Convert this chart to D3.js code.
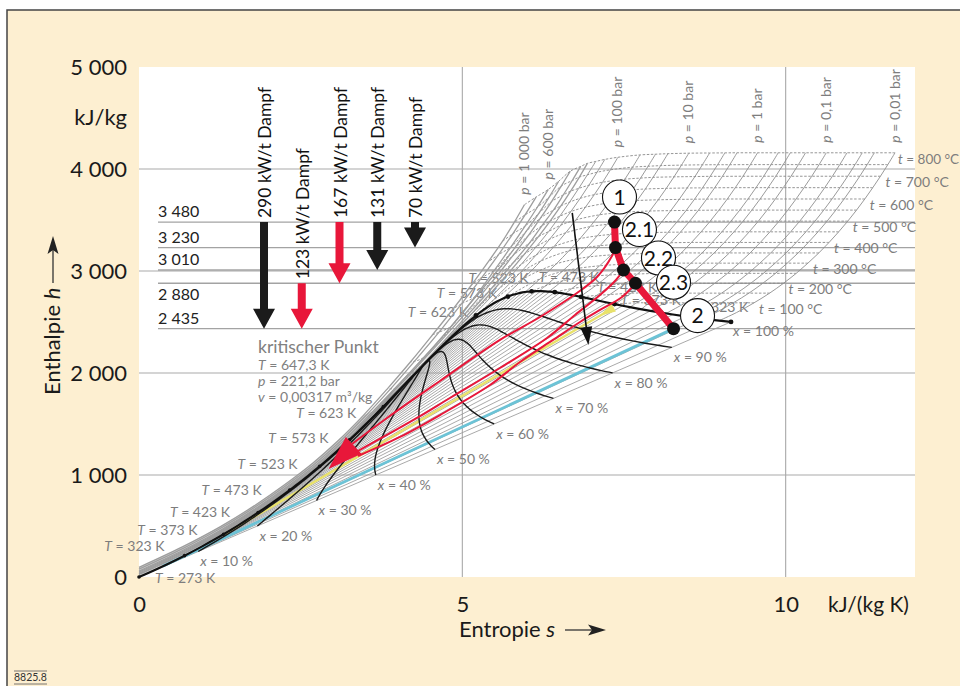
<!DOCTYPE html>
<html><head><meta charset="utf-8">
<script src="https://cdn.jsdelivr.net/npm/d3@7"></script>
<style>body{margin:0;background:#fff}svg{display:block;font-family:Lato,"Open Sans",sans-serif}</style>
</head><body><svg id="c" width="960" height="686"></svg>
<script>
// ---------------- DATA ----------------
// Saturation table of water (t in °C, s in kJ/(kg K), h in kJ/kg)
const satTempC=[0.01,10,20,30,40,50,60,70,80,90,100,110,120,130,140,150,160,170,180,190,200,210,220,230,240,250,260,270,280,290,300,310,320,330,340,350,360,370,373.95];
const satLiqS=[0,0.151,0.2965,0.4368,0.5724,0.7038,0.8313,0.9551,1.0756,1.1929,1.3072,1.4188,1.5279,1.6346,1.7392,1.8418,1.9426,2.0417,2.1392,2.2355,2.3305,2.4245,2.5177,2.6101,2.7020,2.7935,2.8849,2.9765,3.0685,3.1612,3.2552,3.3510,3.4494,3.5518,3.6601,3.7784,3.9167,4.1112,4.407];
const satLiqH=[0,42.0,83.9,125.7,167.5,209.3,251.2,293.0,335.0,377.0,419.2,461.4,503.8,546.4,589.2,632.2,675.5,719.1,763.1,807.4,852.3,897.6,943.6,990.2,1037.6,1085.8,1135.0,1185.3,1236.9,1290.0,1345.0,1402.2,1462.2,1525.9,1594.5,1670.9,1761.7,1889.7,2084.3];
const satVapS=[9.155,8.899,8.666,8.452,8.256,8.075,7.908,7.754,7.611,7.478,7.354,7.238,7.129,7.026,6.929,6.837,6.749,6.665,6.584,6.506,6.430,6.356,6.284,6.213,6.142,6.072,6.001,5.930,5.857,5.782,5.705,5.623,5.535,5.439,5.333,5.211,5.053,4.800,4.407];
const satVapH=[2501.0,2519.2,2537.4,2555.6,2573.5,2591.3,2608.8,2626.1,2643.0,2659.6,2675.6,2691.1,2705.9,2720.1,2733.5,2745.9,2757.4,2767.7,2776.9,2784.8,2792.0,2797.5,2801.0,2802.9,2803.0,2800.9,2796.6,2789.7,2779.9,2766.7,2749.6,2727.9,2700.6,2666.0,2621.8,2563.6,2481.5,2332.7,2084.3];
const kelvinMarks=[273,323,373,423,473,523,573,623];
const qualities=[0.1,0.2,0.3,0.4,0.5,0.6,0.7,0.8,0.9];

// Low pressure superheated steam (t in °C, h common, s per pressure)
const lpTemps=[50,100,150,200,250,300,350,400,450,500,550,600,650,700,750,800];
const lpEnth=[2592,2688,2783,2880,2977,3077,3177,3280,3384,3489,3597,3706,3817,3929,4043,4159];
const s_0p01=[9.238,9.511,9.752,9.967,10.163,10.344,10.513,10.671,10.820,10.961,11.096,11.224,11.347,11.466,11.580,11.691];
const s_0p02=[8.918,9.191,9.432,9.647,9.843,10.024,10.193,10.351,10.500,10.641,10.776,10.904,11.027,11.146,11.260,11.371];
const s_0p03=[8.731,9.004,9.245,9.460,9.656,9.837,10.006,10.164,10.313,10.454,10.589,10.717,10.840,10.959,11.073,11.184];
const s_0p05=[8.495,8.768,9.009,9.224,9.420,9.601,9.770,9.928,10.077,10.218,10.353,10.481,10.604,10.723,10.837,10.948];
const s_0p1=[8.175,8.448,8.689,8.904,9.100,9.281,9.450,9.608,9.757,9.898,10.033,10.161,10.284,10.403,10.517,10.628];
const s_0p2=[null,8.128,8.369,8.584,8.780,8.961,9.130,9.288,9.437,9.578,9.713,9.841,9.964,10.083,10.197,10.308];
const s_0p3=[null,7.892,8.133,8.348,8.544,8.725,8.894,9.052,9.201,9.342,9.477,9.605,9.728,9.847,9.961,10.072];
const s_0p5=[null,7.695,7.946,8.161,8.357,8.538,8.707,8.865,9.014,9.155,9.290,9.418,9.541,9.660,9.774,9.885];
const s_1=[null,null,7.613,7.834,8.033,8.216,8.387,8.544,8.693,8.834,8.969,9.098,9.221,9.340,9.454,9.565];
// saturated vapour start of each low-pressure isobar [t, s, h]
const lpSatStart=[[7.0,8.975,2514],[17.5,8.723,2533],[24.1,8.577,2545],[32.9,8.393,2561],[45.8,8.150,2584],[60.1,7.908,2609],[69.1,7.768,2625],[81.3,7.593,2645],[99.6,7.359,2675]];

// Higher pressure isobars [t °C, s, h]
const isobar_2bar=[[120.2,7.127,2706],[150,7.280,2769],[200,7.508,2871],[250,7.710,2971],[300,7.894,3072],[350,8.064,3174],[400,8.223,3277],[450,8.373,3381],[500,8.515,3488],[550,8.650,3595],[600,8.779,3705],[650,8.902,3816],[700,9.022,3928],[750,9.136,4042],[800,9.248,4159]];
const isobar_3bar=[[133.5,6.992,2725],[150,7.078,2761],[200,7.312,2866],[250,7.518,2968],[300,7.703,3070],[350,7.875,3172],[400,8.034,3275],[450,8.184,3380],[500,8.327,3487],[550,8.462,3594],[600,8.591,3704],[650,8.714,3815],[700,8.833,3928],[750,8.948,4042],[800,9.059,4158]];
const isobar_5bar=[[151.8,6.821,2748],[200,7.061,2856],[250,7.272,2961],[300,7.461,3065],[350,7.634,3168],[400,7.795,3272],[450,7.946,3377],[500,8.088,3484],[550,8.224,3592],[600,8.353,3702],[650,8.477,3814],[700,8.597,3926],[750,8.712,4041],[800,8.824,4157]];
const isobar_10bar=[[179.9,6.586,2777],[200,6.694,2828],[250,6.925,2943],[300,7.123,3051],[350,7.301,3158],[400,7.465,3264],[450,7.618,3371],[500,7.762,3479],[550,7.899,3588],[600,8.029,3698],[650,8.154,3810],[700,8.273,3923],[750,8.389,4038],[800,8.502,4155]];
const isobar_20bar=[[212.4,6.340,2798],[250,6.547,2903],[300,6.768,3024],[350,6.958,3138],[400,7.129,3248],[450,7.287,3358],[500,7.434,3468],[550,7.573,3579],[600,7.704,3691],[650,7.830,3804],[700,7.949,3918],[750,8.066,4033],[800,8.179,4150]];
const isobar_30bar=[[233.9,6.186,2803],[250,6.289,2856],[300,6.541,2994],[350,6.745,3116],[400,6.923,3231],[450,7.086,3344],[500,7.236,3457],[550,7.376,3569],[600,7.509,3682],[650,7.634,3796],[700,7.757,3911],[750,7.873,4027],[800,7.987,4145]];
const isobar_50bar=[[263.9,5.973,2794],[300,6.209,2926],[350,6.451,3069],[400,6.647,3197],[450,6.819,3317],[500,6.976,3435],[550,7.121,3551],[600,7.260,3667],[650,7.390,3783],[700,7.514,3900],[750,7.633,4018],[800,7.748,4138]];
const isobar_100bar=[[311.0,5.614,2725],[325,5.757,2810],[350,5.944,2924],[400,6.212,3097],[450,6.419,3241],[500,6.597,3374],[550,6.756,3501],[600,6.903,3625],[650,7.040,3748],[700,7.169,3870],[750,7.290,3992],[800,7.406,4115]];
const isobar_150bar=[[342.2,5.311,2611],[350,5.442,2693],[400,5.884,2976],[450,6.143,3158],[500,6.349,3311],[550,6.522,3449],[600,6.679,3583],[650,6.823,3713],[700,6.957,3841],[750,7.083,3968],[800,7.204,4094]];
const isobar_200bar=[[365.8,4.927,2411],[400,5.554,2818],[450,5.904,3061],[500,6.143,3238],[550,6.335,3387],[600,6.507,3537],[650,6.660,3676],[700,6.800,3810],[750,6.934,3943],[800,7.062,4074]];
const isobar_250bar=[[0,0,25],[50,0.70,232],[100,1.30,438],[150,1.83,645],[200,2.32,861],[250,2.78,1085],[300,3.21,1330],[350,3.64,1624],[375,4.03,1849],[400,5.14,2578],[450,5.675,2951],[500,5.961,3166],[550,6.180,3339],[600,6.360,3491],[650,6.527,3640],[700,6.675,3783],[750,6.810,3921],[800,6.934,4055]];
const isobar_300bar=[[0,0,30],[50,0.70,237],[100,1.29,443],[150,1.83,650],[200,2.32,865],[250,2.78,1086],[300,3.21,1323],[350,3.63,1608],[375,3.93,1791],[400,4.48,2152],[425,5.00,2512],[450,5.44,2821],[500,5.79,3083],[550,6.04,3276],[600,6.23,3443],[650,6.41,3598],[700,6.56,3745],[750,6.70,3887],[800,6.83,4025]];
const isobar_400bar=[[0,0,39],[50,0.69,245],[100,1.29,450],[150,1.82,658],[200,2.31,869],[250,2.77,1086],[300,3.20,1316],[350,3.61,1567],[375,3.83,1743],[400,4.11,1931],[425,4.50,2198],[450,4.95,2513],[500,5.47,2903],[550,5.78,3149],[600,6.02,3346],[650,6.21,3520],[700,6.38,3681],[750,6.53,3833],[800,6.67,3979]];
const isobar_500bar=[[0,0,49],[50,0.69,253],[100,1.285,458],[150,1.815,666],[200,2.30,877],[250,2.76,1095],[300,3.185,1327],[350,3.59,1582],[400,4.00,1875],[450,4.60,2285],[500,5.17,2720],[550,5.52,2985],[600,5.78,3200],[650,5.99,3390],[700,6.18,3563],[750,6.345,3727],[800,6.49,3880]];
const isobar_600bar=[[0,0,58],[50,0.68,262],[100,1.28,466],[150,1.81,674],[200,2.29,885],[250,2.75,1105],[300,3.17,1340],[350,3.58,1600],[400,3.96,1850],[450,4.40,2150],[500,4.83,2460],[550,5.20,2750],[600,5.50,3010],[650,5.75,3235],[700,5.97,3440],[750,6.16,3625],[800,6.33,3800]];
const isobar_800bar=[[0,0,77],[50,0.675,278],[100,1.27,480],[150,1.795,686],[200,2.27,895],[250,2.72,1110],[300,3.13,1340],[350,3.52,1590],[400,3.89,1845],[450,4.26,2115],[500,4.64,2400],[550,4.99,2680],[600,5.30,2935],[650,5.56,3160],[700,5.78,3365],[750,5.97,3550],[800,6.14,3725]];
const isobar_1000bar=[[0,0,95],[50,0.67,295],[100,1.26,494],[150,1.78,697],[200,2.25,904],[250,2.69,1118],[300,3.09,1343],[350,3.47,1585],[400,3.84,1845],[450,4.20,2110],[500,4.54,2375],[550,4.86,2630],[600,5.15,2870],[650,5.40,3090],[700,5.62,3290],[750,5.80,3475],[800,5.96,3650]];

const isoTempsC=[100,150,200,250,300,350,400,450,500,550,600,650,700,750,800];
const isoTempLabels=[100,200,300,400,500,600,700,800];
const pressureLabels=["1 000","600","100","10","1","0,1","0,01"];

// process (turbine expansion)
const procNames=["1","2.1","2.2","2.3","2"];
const procS=[7.353,7.368,7.492,7.678,8.266];
const procH=[3480,3230,3010,2880,2435];
// extraction (bleed) lines [s, h]
const bleed21=[[7.368,3230],[7.314,3147],[7.082,2941],[6.773,2784],[6.201,2549],[5.582,2324],[4.655,1922],[3.835,1559],[3.294,1304]];
const bleed22=[[7.492,3010],[7.376,2912],[7.129,2765],[6.742,2569],[6.309,2343],[5.582,2049],[4.809,1755],[4.299,1559],[3.356,1225]];
const bleed23=[[7.678,2880],[7.469,2745],[7.129,2618],[6.820,2500],[6.402,2324],[5.892,2108],[5.428,1882],[4.655,1588],[4.036,1373],[3.387,1186]];
const feedArrow=[[3.32,1290],[2.93,1060]];
const yellowLine=[[1.30,412],[7.34,2640]];
const cyanLine=[[0.367,105],[8.266,2435]];
const blackArrow=[[6.70,3569],[6.95,2275]];

// left heat-flow arrows
const heatLabels=["290 kW/t Dampf","123 kW/t Dampf","167 kW/t Dampf","131 kW/t Dampf","70 kW/t Dampf"];
const heatFrom=[3480,2880,3480,3480,3480];
const heatTo=[2435,2435,2880,3010,3230];
const heatRed=[false,true,true,false,false];
const levelValues=[3480,3230,3010,2880,2435];
const levelLabels=["3 480","3 230","3 010","2 880","2 435"];

const yTicks=[0,1000,2000,3000,4000,5000];
const yTickLabels=["0","1 000","2 000","3 000","4 000","5 000"];
const xTicks=[0,5,10];
const xTickLabels=["0","5","10"];

// ---------------- DRAWING ----------------
const RED="#e8173a", GRAY="#7d7d7d", LG="#8e8e8e", FS=14;
const svg=d3.select("#c");
const x=d3.scaleLinear().domain([0,12]).range([139,915]);
const y=d3.scaleLinear().domain([0,5000]).range([577,67]);
const P=d=>[x(d[0]),y(d[1])];

// frame
svg.append("rect").attr("x",7).attr("y",10).attr("width",953).attr("height",676).attr("fill","#fdefd1");
svg.append("path").attr("d","M7,686V10H960").attr("fill","none").attr("stroke","#444").attr("stroke-width",1.5);
svg.append("rect").attr("x",x(0)).attr("y",y(5000)).attr("width",x(12)-x(0)).attr("height",y(0)-y(5000)).attr("fill","#fff");

// grid
const grid=svg.append("g").attr("stroke","#a9a9a9").attr("stroke-width",1.1);
[1000,2000,3000,4000].forEach(v=>grid.append("line").attr("x1",x(0)).attr("x2",x(12)).attr("y1",y(v)).attr("y2",y(v)));
[5,10].forEach(v=>grid.append("line").attr("x1",x(v)).attr("x2",x(v)).attr("y1",y(5000)).attr("y2",y(0)));
levelValues.forEach((v,i)=>{
  svg.append("line").attr("x1",158).attr("x2",x(12)).attr("y1",y(v)).attr("y2",y(v)).attr("stroke","#a3a3a3").attr("stroke-width",1.3);
  const below = v===2880;
  svg.append("text").attr("x",158).attr("y",below?y(v)+17:y(v)-5).attr("font-size",16).attr("fill","#222").text(levelLabels[i]);
});

const curve=d3.line().x(d=>x(d[0])).y(d=>y(d[1])).curve(d3.curveCatmullRom.alpha(0.5));
const straight=d3.line().x(d=>x(d[0])).y(d=>y(d[1]));
const underLayer=svg.append("g");   // labels lying under the curves
const plot=svg.append("g");
const overLayer=svg.append("g");

// isobars list
const lowS=[s_0p01,s_0p02,s_0p03,s_0p05,s_0p1,s_0p2,s_0p3,s_0p5,s_1];
const lowNames=["0,01","0,02","0,03","0,05","0,1","0,2","0,3","0,5","1"];
const isobars=[];
lowS.forEach((arr,k)=>{
  const pts=[lpSatStart[k]];
  arr.forEach((s,i)=>{ if(s!==null && lpTemps[i]>lpSatStart[k][0]) pts.push([lpTemps[i],s,lpEnth[i]]); });
  isobars.push({name:lowNames[k],pts,superc:false});
});
[["2",isobar_2bar],["3",isobar_3bar],["5",isobar_5bar],["10",isobar_10bar],["20",isobar_20bar],["30",isobar_30bar],["50",isobar_50bar],["100",isobar_100bar],["150",isobar_150bar],["200",isobar_200bar]]
  .forEach(([n,a])=>isobars.push({name:n,pts:a,superc:false}));
[["250",isobar_250bar],["300",isobar_300bar],["400",isobar_400bar],["500",isobar_500bar],["600",isobar_600bar],["800",isobar_800bar],["1 000",isobar_1000bar]]
  .forEach(([n,a])=>isobars.push({name:n,pts:a,superc:true}));

// compressed-liquid band
{
  const hi=isobar_1000bar.filter(d=>d[0]<=350).map(d=>[d[1],d[2]]);
  const lo=satTempC.map((t,i)=>[satLiqS[i],satLiqH[i]]).filter((d,i)=>satTempC[i]<=350).reverse();
  plot.append("path").attr("d",straight(hi.concat(lo))+"Z").attr("fill","#d2d2d2");
}

// wet-region isotherms (straight)
satTempC.forEach((t,i)=>{ if(i<satTempC.length-1)
  plot.append("line").attr("x1",x(satLiqS[i])).attr("y1",y(satLiqH[i])).attr("x2",x(satVapS[i])).attr("y2",y(satVapH[i]))
   .attr("stroke","#9a9a9a").attr("stroke-width",0.85);
});

// isotherms (dashed)
isoTempsC.forEach(t=>{
  const pts=[];
  isobars.forEach(ib=>{
    if(ib.superc && t<400) return;
    const p=ib.pts.find(d=>d[0]===t); if(p) pts.push([p[1],p[2]]);
  });
  const si=satTempC.indexOf(t);
  if(t<=350 && si>=0) pts.push([satVapS[si],satVapH[si]]);
  plot.append("path").attr("d",curve(pts)).attr("fill","none").attr("stroke","#8a8a8a").attr("stroke-width",0.9).attr("stroke-dasharray","2.5,1.6");
  if(isoTempLabels.includes(t)){
    const e=P(pts[0]);
    const tx=overLayer.append("text").attr("x",e[0]+(t===800?3:5)).attr("y",e[1]+11).attr("font-size",t===800?13.5:FS).attr("fill",GRAY);
    tx.append("tspan").attr("font-style","italic").text("t");
    tx.append("tspan").text(" = "+t+" °C");
  }
});

// isobars (solid)
isobars.forEach(ib=>{
  plot.append("path").attr("d",curve(ib.pts.map(d=>[d[1],d[2]]))).attr("fill","none")
    .attr("stroke",ib.superc?"#9e9e9e":LG).attr("stroke-width",ib.superc?1.3:0.9);
  if(pressureLabels.includes(ib.name)){
    const e=P(ib.pts[ib.pts.length-1].slice(1));
    const tx=overLayer.append("text").attr("transform",`translate(${e[0]+4.5},${e[1]-10}) rotate(-90)`).attr("font-size",FS).attr("fill",GRAY);
    tx.append("tspan").attr("font-style","italic").text("p");
    tx.append("tspan").text(" = "+ib.name+" bar");
  }
});

// cyan and yellow isobars
plot.append("path").attr("d",straight(cyanLine)).attr("stroke","#6cc3d6").attr("stroke-width",2.8).attr("fill","none");
plot.append("path").attr("d",straight(yellowLine)).attr("stroke","#e9e26a").attr("stroke-width",2.4).attr("fill","none");
{
  const a=P(yellowLine[0]), b=P(yellowLine[1]); const L=Math.hypot(b[0]-a[0],b[1]-a[1]);
  const u=[(b[0]-a[0])/L,(b[1]-a[1])/L], n=[-u[1],u[0]];
  plot.append("path").attr("d",`M${b[0]-u[0]*16},${b[1]-u[1]*16}L${b[0]+n[0]*4.5},${b[1]+n[1]*4.5}L${b[0]-n[0]*4.5},${b[1]-n[1]*4.5}Z`).attr("fill","#e9e26a");
}

// quality lines
qualities.forEach(q=>{
  const pts=satTempC.map((t,i)=>[satLiqS[i]+q*(satVapS[i]-satLiqS[i]), satLiqH[i]+q*(satVapH[i]-satLiqH[i])]);
  plot.append("path").attr("d",curve(pts)).attr("fill","none").attr("stroke","#1a1a1a").attr("stroke-width",1.4);
  const e=P(pts[0]);
  const tx=underLayer.append("text").attr("x",e[0]+2).attr("y",e[1]+15).attr("font-size",FS).attr("fill",GRAY);
  tx.append("tspan").attr("font-style","italic").text("x");
  tx.append("tspan").text(" = "+Math.round(q*100)+" %");
});
// saturation dome
const dome=satTempC.map((t,i)=>[satLiqS[i],satLiqH[i]]).concat(satTempC.map((t,i)=>[satVapS[i],satVapH[i]]).reverse().slice(1));
plot.append("path").attr("d",curve(dome)).attr("fill","none").attr("stroke","#111").attr("stroke-width",2.2);
{
  const e=P([satVapS[0],satVapH[0]]);
  const tx=underLayer.append("text").attr("x",e[0]+2).attr("y",e[1]+14).attr("font-size",FS).attr("fill",GRAY);
  tx.append("tspan").attr("font-style","italic").text("x");
  tx.append("tspan").text(" = 100 %");
}
// kelvin marks + labels
const liqOff={273:[16,6,"start"],323:[-20,-5,"end"],373:[-26,1,"end"],423:[-28,4.5,"end"],473:[-28,5,"end"],523:[-22,3,"end"],573:[-21,3,"end"],623:[-27,11,"end"]};
const vapOff={273:null,323:[27,-1,"start"],373:[6,1,"start"],423:[16,-5,"start"],473:[-16,-10,"start"],523:[-3,-8.5,"end"],573:[-11,1.5,"end"],623:[-8,1.5,"end"]};
kelvinMarks.forEach(K=>{
  const i=satTempC.findIndex(t=>Math.abs(t+273.15-K)<1);
  const l=P([satLiqS[i],satLiqH[i]]), v=P([satVapS[i],satVapH[i]]);
  plot.append("circle").attr("cx",v[0]).attr("cy",v[1]).attr("r",2.4).attr("fill","#111");
  plot.append("circle").attr("cx",l[0]).attr("cy",l[1]).attr("r",1.8).attr("fill","#111");
  const lo=liqOff[K];
  const t1=underLayer.append("text").attr("x",l[0]+lo[0]).attr("y",l[1]+lo[1]).attr("text-anchor",lo[2]).attr("font-size",FS).attr("fill",GRAY);
  t1.append("tspan").attr("font-style","italic").text("T");t1.append("tspan").text(" = "+K+" K");
  const vo=vapOff[K];
  if(vo){
    const t2=underLayer.append("text").attr("x",v[0]+vo[0]).attr("y",v[1]+vo[1]).attr("text-anchor",vo[2]).attr("font-size",FS).attr("fill",GRAY);
    t2.append("tspan").attr("font-style","italic").text("T");t2.append("tspan").text(" = "+K+" K");
  }
});

// red bleed lines
[bleed21,bleed22,bleed23].forEach(b=>plot.append("path").attr("d",curve(b)).attr("fill","none").attr("stroke",RED).attr("stroke-width",2));
function head(tip,base,hw,color){
  const L=Math.hypot(tip[0]-base[0],tip[1]-base[1]); const n=[-(tip[1]-base[1])/L,(tip[0]-base[0])/L];
  plot.append("path").attr("d",`M${tip[0]},${tip[1]}L${base[0]+n[0]*hw},${base[1]+n[1]*hw}L${base[0]-n[0]*hw},${base[1]-n[1]*hw}Z`).attr("fill",color);
}
head(P(feedArrow[1]),P(feedArrow[0]),11.5,RED);
// black arrow
{
  const a=P(blackArrow[0]), b=P(blackArrow[1]); const L=Math.hypot(b[0]-a[0],b[1]-a[1]);
  const u=[(b[0]-a[0])/L,(b[1]-a[1])/L]; const base=[b[0]-u[0]*18,b[1]-u[1]*18];
  plot.append("line").attr("x1",a[0]).attr("y1",a[1]).attr("x2",base[0]).attr("y2",base[1]).attr("stroke","#111").attr("stroke-width",1.6);
  head(b,base,6,"#111");
}
// expansion line
const proc=procS.map((s,i)=>[s,procH[i]]);
plot.append("path").attr("d",straight(proc)).attr("fill","none").attr("stroke",RED).attr("stroke-width",7).attr("stroke-linejoin","round");
const procOff=[[5,-25],[24,-18],[35,-12],[38,-1],[24,-13]];
proc.forEach((d,i)=>{
  const p=P(d);
  plot.append("circle").attr("cx",p[0]).attr("cy",p[1]).attr("r",6.5).attr("fill","#111");
  const c=[p[0]+procOff[i][0],p[1]+procOff[i][1]];
  plot.append("circle").attr("cx",c[0]).attr("cy",c[1]).attr("r",17).attr("fill","#fff").attr("stroke","#111").attr("stroke-width",1.1);
  plot.append("text").attr("x",c[0]).attr("y",c[1]).attr("dy","0.36em").attr("text-anchor","middle").attr("font-size",21).attr("fill","#111").text(procNames[i]);
});

// left heat arrows
const ax=d3.scalePoint().domain(heatLabels).range([264,415]);
heatLabels.forEach((lab,i)=>{
  const cx=ax(lab), y0=y(heatFrom[i]), y1=y(heatTo[i]), hw=4, hh=11, hl=20;
  svg.append("path").attr("d",`M${cx-hw},${y0}L${cx+hw},${y0}L${cx+hw},${y1-hl}L${cx+hh},${y1-hl}L${cx},${y1}L${cx-hh},${y1-hl}L${cx-hw},${y1-hl}Z`)
    .attr("fill",heatRed[i]?RED:"#1b1b1b");
  svg.append("text").attr("transform",`translate(${cx+7},${y0-4}) rotate(-90)`).attr("font-size",17.5).attr("fill","#111").text(lab);
});

// critical point annotation
const kp=svg.append("g").attr("fill","#808080");
kp.append("text").attr("x",258).attr("y",353).attr("font-size",17.5).text("kritischer Punkt");
[["T"," = 647,3 K",370],["p"," = 221,2 bar",386],["v"," = 0,00317 m³/kg",402]].forEach(r=>{
  const t=kp.append("text").attr("x",258).attr("y",r[2]).attr("font-size",FS);
  t.append("tspan").attr("font-style","italic").text(r[0]); t.append("tspan").text(r[1]);
});

// axes
const yAx=svg.append("g").attr("transform",`translate(${x(0)},0)`).call(d3.axisLeft(y).tickValues(yTicks).tickSize(0).tickPadding(12).tickFormat((d,i)=>yTickLabels[i]));
yAx.select(".domain").remove();
yAx.selectAll("text").attr("font-size",22).attr("fill","#1a1a1a").attr("font-family","Lato");
const xAx=svg.append("g").attr("transform",`translate(0,${y(0)})`).call(d3.axisBottom(x).tickValues(xTicks).tickSize(0).tickPadding(19).tickFormat((d,i)=>xTickLabels[i]));
xAx.select(".domain").remove();
xAx.selectAll("text").attr("font-size",22).attr("fill","#1a1a1a").attr("font-family","Lato");
svg.append("text").attr("x",127).attr("y",y(4500)+7).attr("text-anchor","end").attr("font-size",22).attr("fill","#1a1a1a").text("kJ/kg");
svg.append("text").attr("x",828).attr("y",612).attr("font-size",21).attr("fill","#1a1a1a").text("kJ/(kg K)");

// axis titles
const xt=svg.append("text").attr("x",459).attr("y",637).attr("font-size",22).attr("fill","#1a1a1a");
xt.append("tspan").text("Entropie ");xt.append("tspan").attr("font-style","italic").text("s");
svg.append("line").attr("x1",565).attr("x2",592).attr("y1",630).attr("y2",630).attr("stroke","#333").attr("stroke-width",1.3);
svg.append("path").attr("d","M606,630L588,624.5L592,630L588,635.5Z").attr("fill","#222");
const yt=svg.append("text").attr("transform","translate(60,395) rotate(-90)").attr("font-size",22).attr("fill","#1a1a1a");
yt.append("tspan").text("Enthalpie ");yt.append("tspan").attr("font-style","italic").text("h");
svg.append("line").attr("x1",53).attr("x2",53).attr("y1",283).attr("y2",250).attr("stroke","#333").attr("stroke-width",1.3);
svg.append("path").attr("d","M53,236L47.5,254L53,250L58.5,254Z").attr("fill","#222");

// footer id
svg.append("text").attr("x",14).attr("y",681).attr("font-size",10.5).attr("fill","#333").text("8825.8");
svg.append("line").attr("x1",14).attr("x2",47).attr("y1",671).attr("y2",671).attr("stroke","#555").attr("stroke-width",0.8);
svg.append("line").attr("x1",14).attr("x2",47).attr("y1",684).attr("y2",684).attr("stroke","#555").attr("stroke-width",0.8);
</script></body></html>
